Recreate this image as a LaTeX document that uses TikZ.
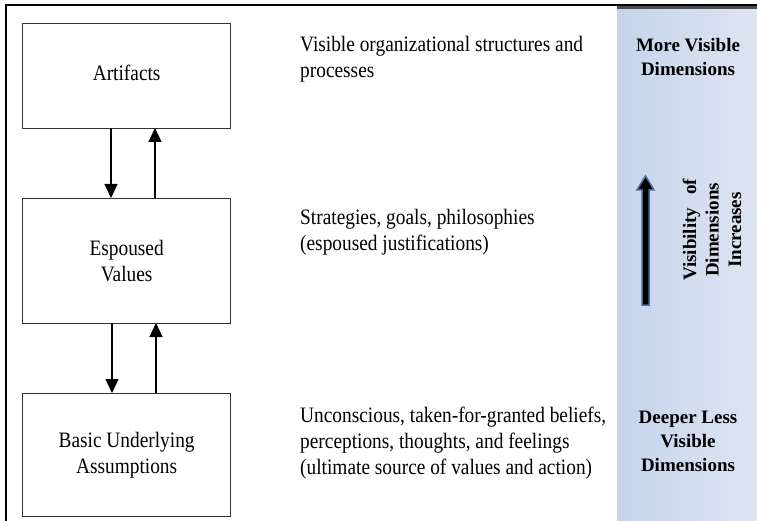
\documentclass[tikz,border=0pt]{standalone}
\usepackage{fontspec}
\setmainfont{Liberation Serif}
\newfontfamily\narrowserif[FakeStretch=0.88]{Liberation Serif}
\usetikzlibrary{arrows.meta}
\definecolor{panelA}{HTML}{C5D3EB}
\definecolor{panelB}{HTML}{DEE5F1}
\definecolor{arrowedge}{HTML}{4A6A98}
\begin{document}
\begin{tikzpicture}[x=1pt,y=-1pt,
  layer/.style={draw=black!80,line width=1.3pt,minimum width=208pt,anchor=north west,inner sep=0pt},
  boxtext/.style={font=\narrowserif\fontsize{22}{26}\selectfont,align=center},
  desc/.style={font=\narrowserif\fontsize{22}{26}\selectfont,align=left,anchor=north west,inner sep=0pt},
  paneltext/.style={font=\bfseries\fontsize{19}{24}\selectfont,align=center},
  link/.style={line width=1.1pt,-{Triangle[length=14pt,width=13pt]}}]
\useasboundingbox (0,0) rectangle (757,521);
\fill[white] (0,0) rectangle (757,521);
% right-hand shaded panel
\shade[left color=panelA,right color=panelB] (617,7) rectangle (757,521);
\fill[black!70] (617,6) rectangle (757,9);
% outer frame
\draw[line width=2pt] (6,521) -- (6,5) -- (757,5);
% the three layers
\node[layer,minimum height=105pt] (art) at (22,23) {};
\node[layer,minimum height=125pt] (esp) at (22,198) {};
\node[layer,minimum height=123pt] (bua) at (22,393) {};
\node[boxtext] at ([yshift=3pt]art.center) {Artifacts};
\node[boxtext] at (esp.center) {Espoused\\Values};
\node[boxtext] at (bua.center) {Basic Underlying\\Assumptions};
% connectors between the layers
\coordinate (a1) at (111,128); \coordinate (e1) at (111,198);
\coordinate (a2) at (155,128); \coordinate (e2) at (155,198);
\coordinate (e3) at (112,323); \coordinate (b3) at (112,393);
\coordinate (e4) at (156,323); \coordinate (b4) at (156,393);
\draw[link] (a1) -- (e1);
\draw[link] (e2) -- (a2);
\draw[link] (e3) -- (b3);
\draw[link] (b4) -- (e4);
% descriptions
\node[desc] (d1) at (300,36) {Visible organizational structures and\\processes};
\node[desc] (d2) at (300,209) {Strategies, goals, philosophies\\(espoused justifications)};
\node[desc] (d3) at (300,407) {Unconscious, taken-for-granted beliefs,\\perceptions, thoughts, and feelings\\(ultimate source of values and action)};
% panel labels
\node[paneltext] (top) at (688,57) {More Visible\\Dimensions};
\node[paneltext] (bot) at (688,441) {Deeper Less\\Visible\\Dimensions};
\node[paneltext,rotate=90,font=\bfseries\fontsize{19}{22.5}\selectfont] (vis) at (712,230) {Visibility \ \,of\\Dimensions\\Increases};
% visibility arrow
\filldraw[fill=black,draw=arrowedge,line width=1.5pt]
  (642,305) -- (642,190) -- (637,190) -- (645.5,176) -- (654,190) -- (649,190) -- (649,305) -- cycle;
\end{tikzpicture}
\end{document}
